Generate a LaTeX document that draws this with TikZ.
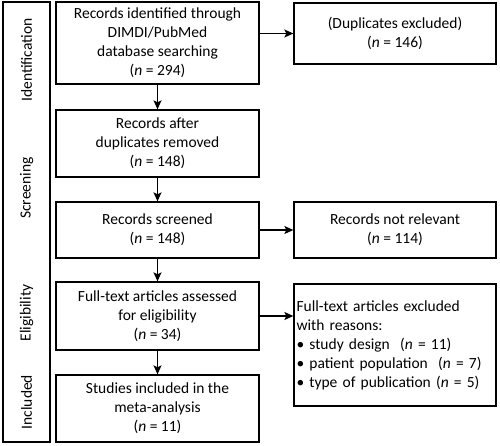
\documentclass[tikz,border=0pt]{standalone}
\usepackage{fontspec}
\setmainfont{Carlito}
\usetikzlibrary{arrows.meta}

\begin{document}
\begin{tikzpicture}[x=1pt, y=-1pt, line width=1.3pt,
        font=\fontsize{15.5}{19}\selectfont,
        stage/.style={draw, align=center, inner sep=0pt, minimum width=203pt},
        phase/.style={rotate=90, inner sep=0pt},
        flow/.style={-{Stealth[length=9pt, width=8pt, inset=2pt]}}]
                \useasboundingbox (0, 0) rectangle (500, 445);

                \draw (3, 2) rectangle (50, 442);

                \node[phase] (ident) at (26.5, 60) {Identification};

                \node[phase] (screening) at (26.5, 188) {Screening};

                \node[phase] (eligibility) at (26.5, 313) {Eligibility};

                \node[phase] (included) at (26.5, 402) {Included};

                \node[stage, minimum height=82pt] (rec) at (157.5, 43) {Records identified through\\DIMDI/PubMed\\database searching\\(\textit{n} = 294)};

                \node[stage, minimum height=67pt] (dedup) at (157.5, 143.5) {Records after\\duplicates removed\\(\textit{n} = 148)};

                \node[stage, minimum height=56pt] (screen) at (157.5, 230) {Records screened\\(\textit{n} = 148)};

                \node[stage, minimum height=68pt] (full) at (157.5, 316) {Full-text articles assessed\\for eligibility\\(\textit{n} = 34)};

                \node[stage, minimum height=67pt] (incl) at (157.5, 408.5) {Studies included in the\\meta-analysis\\(\textit{n} = 11)};

                \node[stage, minimum width=202pt, minimum height=61pt] (dup) at (395, 33.5) {(Duplicates excluded)\\(\textit{n} = 146)};

                \node[stage, minimum width=202pt, minimum height=56pt] (notrel) at (395, 230) {Records not relevant\\(\textit{n} = 114)};

                \node[stage, minimum width=202pt, minimum height=122pt, text width=197pt, align=left, inner xsep=2.5pt] (excl) at (395, 345) {Full-text articles excluded\\with reasons:\\\textbullet\ study design~~(\textit{n} = 11)\\\textbullet\ patient population~~(\textit{n} = 7)\\\textbullet\ type of publication (\textit{n} = 5)\\[10pt]};

                \draw[flow] (rec) -- (dedup);

                \draw[flow] (dedup) -- (screen);

                \draw[flow] (screen) -- (full);

                \draw[flow] (full) -- (incl);

                \draw[flow] (rec.east |- dup.west) -- (dup.west);

                \draw[flow] (screen.east) -- (notrel.west);

                \draw[flow] (full.east) -- (full.east -| excl.west);
            \end{tikzpicture}
\end{document}
